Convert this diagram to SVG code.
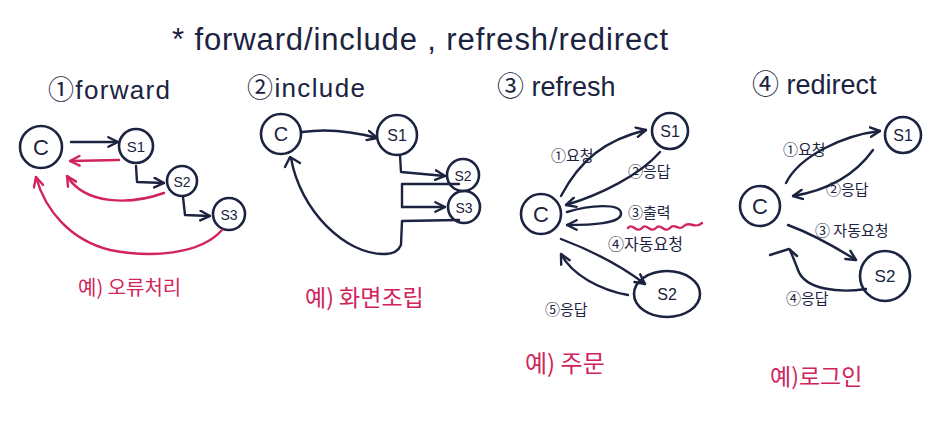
<svg xmlns="http://www.w3.org/2000/svg" width="947" height="421" viewBox="0 0 947 421">
<defs>
<marker id="ad" viewBox="0 0 10 10" refX="9" refY="5" markerWidth="12" markerHeight="12" markerUnits="userSpaceOnUse" orient="auto"><path d="M1,1 L9,5 L1,9" fill="none" stroke="#1b2340" stroke-width="2" stroke-linecap="round" stroke-linejoin="round"/></marker>
<marker id="ar" viewBox="0 0 10 10" refX="9" refY="5" markerWidth="12" markerHeight="12" markerUnits="userSpaceOnUse" orient="auto"><path d="M1,1 L9,5 L1,9" fill="none" stroke="#d1245a" stroke-width="2" stroke-linecap="round" stroke-linejoin="round"/></marker>
<style>
.n{fill:none;stroke:#1b2340;stroke-width:2.6}
.t{fill:#1b2340;font-family:"Liberation Sans","Noto Sans CJK KR",sans-serif}
.k{fill:#1b2340;font-family:"Noto Sans CJK KR",sans-serif}
.r{fill:#d1245a;font-family:"Noto Sans CJK KR",sans-serif}
.c{fill:none;stroke:#1b2340;stroke-width:2.4;stroke-linecap:round;stroke-linejoin:round}
.cr{fill:none;stroke:#d1245a;stroke-width:2.4;stroke-linecap:round;stroke-linejoin:round}
.da{marker-end:url(#ad)}
.ra{marker-end:url(#ar)}
</style>
</defs>
<rect width="947" height="421" fill="#ffffff"/>
<text class="t" x="172" y="50" font-size="31" textLength="496" lengthAdjust="spacing">* forward/include , refresh/redirect</text>
<!-- headings -->
<text class="t" x="48" y="99" font-size="26" textLength="122" lengthAdjust="spacing">①forward</text>
<text class="t" x="247" y="97" font-size="26" textLength="118" lengthAdjust="spacing">②include</text>
<text class="t" x="497" y="96" font-size="27">③ refresh</text>
<text class="t" x="752" y="94" font-size="27">④ redirect</text>

<!-- Section 1 nodes -->
<g id="f-c"><circle class="n" cx="41" cy="147" r="21"/><text class="t" x="41" y="155" font-size="22" text-anchor="middle">C</text></g>
<g id="f-s1"><circle class="n" cx="136" cy="146" r="17"/><text class="t" x="136" y="152" font-size="15" text-anchor="middle">S1</text></g>
<g id="f-s2"><circle class="n" cx="182" cy="181" r="15"/><text class="t" x="182" y="187" font-size="14" text-anchor="middle">S2</text></g>
<g id="f-s3"><circle class="n" cx="229" cy="214" r="16"/><text class="t" x="229" y="220" font-size="14" text-anchor="middle">S3</text></g>
<!-- Section 2 nodes -->
<g id="i-c"><circle class="n" cx="281" cy="134" r="20"/><text class="t" x="281" y="141" font-size="20" text-anchor="middle">C</text></g>
<g id="i-s1"><circle class="n" cx="397" cy="135" r="20"/><text class="t" x="397" y="141" font-size="16" text-anchor="middle">S1</text></g>
<g id="i-s2"><circle class="n" cx="463" cy="175" r="16"/><text class="t" x="463" y="181" font-size="14" text-anchor="middle">S2</text></g>
<g id="i-s3"><circle class="n" cx="464" cy="207" r="16"/><text class="t" x="464" y="213" font-size="14" text-anchor="middle">S3</text></g>
<!-- Section 3 nodes -->
<g id="rf-s1"><circle class="n" cx="670" cy="131" r="18"/><text class="t" x="670" y="137" font-size="16" text-anchor="middle">S1</text></g>
<g id="rf-c"><circle class="n" cx="541" cy="214" r="20"/><text class="t" x="541" y="222" font-size="22" text-anchor="middle">C</text></g>
<g id="rf-s2"><ellipse class="n" cx="667" cy="294" rx="33" ry="23"/><text class="t" x="667" y="300" font-size="16" text-anchor="middle">S2</text></g>
<!-- Section 4 nodes -->
<g id="rd-s1"><circle class="n" cx="903" cy="135" r="18"/><text class="t" x="903" y="141" font-size="16" text-anchor="middle">S1</text></g>
<g id="rd-c"><circle class="n" cx="760" cy="206" r="20"/><text class="t" x="760" y="214" font-size="22" text-anchor="middle">C</text></g>
<g id="rd-s2"><circle class="n" cx="885" cy="276" r="25"/><text class="t" x="885" y="282" font-size="17" text-anchor="middle">S2</text></g>

<g id="connectors">
<!-- forward -->
<path class="c da" d="M71,142 L118,142"/>
<path class="cr ra" d="M119,160 L70,161"/>
<path class="c da" d="M136,166 L137,182 L164,183"/>
<path class="c da" d="M183,197 L185,215 L210,216"/>
<path class="cr ra" d="M164,193 C130,205 85,205 67,176"/>
<path class="cr ra" d="M222,230 C200,255 150,258 110,250 C70,240 45,210 36,177"/>
<!-- include -->
<path class="c da" d="M302,132 C330,128 355,132 377,138"/>
<path class="c da" d="M400,155 L401,172 L445,176"/>
<path class="c" d="M459,184 L402,184 L402,207"/>
<path class="c da" d="M402,207 L445,207"/>
<path class="c" d="M459,220 L402,221 L401,245 C398,252 392,254 385,254 C345,255 300,210 291,158"/>
<path class="c" d="M285,167 L290,157 L300,163"/>
<!-- refresh -->
<path class="c da" d="M561,196 C580,160 605,140 646,130"/>
<path class="c da" d="M660,152 C640,175 600,195 566,205"/>
<path class="c da" d="M567,212 C590,205 620,203 621,213 C622,224 590,225 567,225"/>
<path class="cr" d="M628,228 C633,222 636,234 642,228 C647,222 650,234 656,228 C661,222 664,234 670,228 C675,222 678,232 684,226 C690,220 694,230 702,223"/>
<path class="c da" d="M561,239 C590,250 620,265 645,284"/>
<path class="c da" d="M628,295 C600,290 572,275 561,254"/>
<!-- redirect -->
<path class="c da" d="M786,183 C800,155 845,135 880,131"/>
<path class="c da" d="M873,150 C855,175 830,190 793,196"/>
<path class="c da" d="M788,225 C815,235 840,250 856,260"/>
<path class="c" d="M866,289 C840,293 805,290 798,270 C795,262 792,255 790,250"/>
<path class="c" d="M770,255 L789,249 L797,256"/>
</g>

<!-- small labels -->
<text class="k" x="551" y="161" font-size="15">①요청</text>
<text class="k" x="628" y="177" font-size="15">②응답</text>
<text class="k" x="628" y="218" font-size="15">③출력</text>
<text class="k" x="608" y="250" font-size="16">④자동요청</text>
<text class="k" x="545" y="315" font-size="15">⑤응답</text>
<text class="k" x="783" y="155" font-size="15">①요청</text>
<text class="k" x="826" y="195" font-size="15">②응답</text>
<text class="k" x="815" y="236" font-size="15">③ 자동요청</text>
<text class="k" x="786" y="304" font-size="15">④응답</text>

<!-- examples -->
<text class="r" x="78" y="295" font-size="20">예) 오류처리</text>
<text class="r" x="305" y="306" font-size="23">예) 화면조립</text>
<text class="r" x="525" y="372" font-size="24">예) 주문</text>
<text class="r" x="770" y="385" font-size="23">예)로그인</text>
</svg>
